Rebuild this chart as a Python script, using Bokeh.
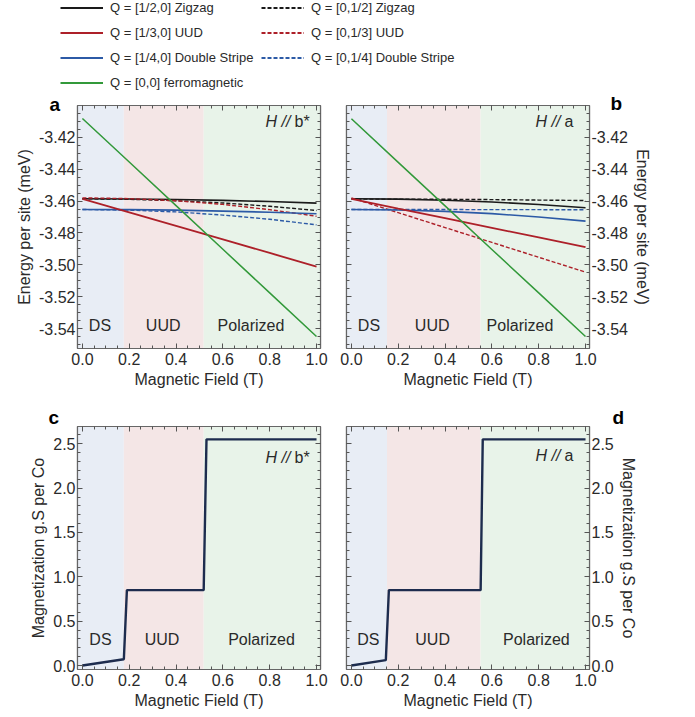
from bokeh.plotting import figure
from bokeh.layouts import column, row
from bokeh.models import (Legend, LegendItem, Label, LinearAxis, SingleIntervalTicker,
                          NumeralTickFormatter, Range1d, BoxAnnotation)
from bokeh.embed import file_html
from bokeh.resources import INLINE

# ---------------- data ----------------
field = [0.0, 0.2, 0.4, 0.6, 0.8, 1.0]

# panel a : H // b*
ferro_b = [-3.4083, -3.4356, -3.4629, -3.4902, -3.5175, -3.5448]
zig_h_b = [-3.4586, -3.4587, -3.4590, -3.4596, -3.4603, -3.4613]
zig_k_b = [-3.4586, -3.4589, -3.4598, -3.4612, -3.4633, -3.4659]
uud_h_b = [-3.4586, -3.4671, -3.4756, -3.4840, -3.4925, -3.5010]
uud_k_b = [-3.4580, -3.4585, -3.4598, -3.4621, -3.4654, -3.4695]
ds_h_b = [-3.4653, -3.4654, -3.4657, -3.4663, -3.4670, -3.4680]
ds_k_b = [-3.4653, -3.4657, -3.4668, -3.4688, -3.4714, -3.4749]

# panel b : H // a
ferro_a = [-3.4085, -3.4358, -3.4630, -3.4903, -3.5175, -3.5448]
zig_h_a = [-3.4586, -3.4588, -3.4595, -3.4606, -3.4622, -3.4642]
zig_k_a = [-3.4588, -3.4588, -3.4589, -3.4591, -3.4594, -3.4597]
uud_h_a = [-3.4586, -3.4647, -3.4707, -3.4768, -3.4828, -3.4889]
uud_k_a = [-3.4580, -3.4673, -3.4766, -3.4859, -3.4952, -3.5045]
ds_h_a = [-3.4653, -3.4656, -3.4665, -3.4679, -3.4700, -3.4726]
ds_k_a = [-3.4653, -3.4653, -3.4653, -3.4654, -3.4654, -3.4655]

# magnetization
mag_field_b = [0.0, 0.177, 0.19, 0.518, 0.53, 1.0]
mag_b = [0.0, 0.07, 0.85, 0.85, 2.55, 2.55]
mag_field_a = [0.0, 0.147, 0.16, 0.552, 0.561, 1.0]
mag_a = [0.0, 0.06, 0.85, 0.85, 2.55, 2.55]

# phase boundaries
bounds_b = [0.177, 0.518]
bounds_a = [0.152, 0.552]
phase_names = ["DS", "UUD", "Polarized"]

legend_labels = ["Q = [1/2,0] Zigzag", "Q = [1/3,0] UUD", "Q = [1/4,0] Double Stripe",
                 "Q = [0,0] ferromagnetic", "Q = [0,1/2] Zigzag", "Q = [0,1/3] UUD",
                 "Q = [0,1/4] Double Stripe"]

# ---------------- style ----------------
C_BLACK = "#1a1a1a"
C_RED = "#ad2029"
C_BLUE = "#2c5aa6"
C_GREEN = "#32993a"
C_MAG = "#1d2c4e"
BG = ["#e8edf5", "#f4e6e6", "#e8f3e9"]
FONT = "Liberation Sans"
TXT = "#2a2a2a"
DASH = "4 2"
XR = (-0.021, 1.017)
YR_E = (-3.5523, -3.4002)
YR_M = (-0.045, 2.695)


def style_axis(ax, show_labels=True):
    ax.major_tick_in = 5
    ax.major_tick_out = 0
    ax.minor_tick_in = 3
    ax.minor_tick_out = 0
    ax.major_tick_line_color = "#555555"
    ax.minor_tick_line_color = "#555555"
    ax.axis_line_color = "#666666"
    ax.axis_line_width = 1.2
    ax.major_label_text_font = FONT
    ax.major_label_text_font_size = "16px"
    ax.major_label_text_color = TXT if show_labels else None
    ax.axis_label_text_font = FONT
    ax.axis_label_text_font_size = "16px"
    ax.axis_label_text_font_style = "normal"
    ax.axis_label_text_color = TXT


def make_panel(side, yr, yint, yminor, yfmt, ylabel, top, bottom, bounds,
               letter, letter_offset, letter_standoff):
    if side == "left":
        bl, br = 77, 13
    else:
        bl, br = 13, 107
    p = figure(frame_width=243, frame_height=243, min_border_left=bl, min_border_right=br,
               min_border_top=top, min_border_bottom=bottom,
               x_range=Range1d(*XR), y_range=Range1d(*yr),
               y_axis_location=side, toolbar_location=None, output_backend="svg")
    p.grid.visible = False
    p.outline_line_color = "#666666"
    p.outline_line_width = 1.2
    p.background_fill_color = "white"
    p.border_fill_color = "white"

    # panel letter as title
    p.title.text = letter
    p.title.align = "left"
    p.title.offset = letter_offset
    p.title.standoff = letter_standoff
    p.title.text_font = FONT
    p.title.text_font_size = "19px"
    p.title.text_font_style = "bold"
    p.title.text_color = "black"

    xt = SingleIntervalTicker(interval=0.2, num_minor_ticks=4)
    yt = SingleIntervalTicker(interval=yint, num_minor_ticks=yminor)
    p.xaxis.ticker = xt
    p.xaxis.formatter = NumeralTickFormatter(format="0.0")
    p.xaxis.axis_label = "Magnetic Field (T)"
    p.yaxis.ticker = yt
    p.yaxis.formatter = NumeralTickFormatter(format=yfmt)
    p.yaxis.axis_label = ylabel
    for ax in p.xaxis:
        style_axis(ax)
        ax.major_label_standoff = 4
        ax.axis_label_standoff = 3
    for ax in p.yaxis:
        style_axis(ax)
        ax.major_label_standoff = 2
        ax.axis_label_standoff = 3

    # mirrored frame ticks
    top_ax = LinearAxis(ticker=SingleIntervalTicker(interval=0.2, num_minor_ticks=4))
    style_axis(top_ax, show_labels=False)
    top_ax.major_label_standoff = 0
    p.add_layout(top_ax, "above")
    other = "right" if side == "left" else "left"
    y_ax = LinearAxis(ticker=SingleIntervalTicker(interval=yint, num_minor_ticks=yminor))
    style_axis(y_ax, show_labels=False)
    y_ax.major_label_standoff = 0
    p.add_layout(y_ax, other)

    # phase regions
    edges = [XR[0]] + list(bounds) + [XR[1]]
    for i in range(3):
        p.add_layout(BoxAnnotation(left=edges[i], right=edges[i + 1], bottom=yr[0], top=yr[1],
                                   fill_color=BG[i], fill_alpha=1.0, line_color=None,
                                   level="underlay"))
    return p


def add_texts(p, hdir, hx, hy, px, py):
    p.add_layout(Label(x=hx, y=hy, x_units="screen", y_units="screen", text="H //",
                       text_align="right", text_font=FONT, text_font_size="16px",
                       text_font_style="italic", text_color=TXT))
    p.add_layout(Label(x=hx + 4, y=hy, x_units="screen", y_units="screen", text=hdir,
                       text_align="left", text_font=FONT, text_font_size="16px",
                       text_color=TXT))
    for name, x in zip(phase_names, px):
        p.add_layout(Label(x=x, y=py, x_units="data", y_units="screen", text=name,
                           text_align="center", text_baseline="middle", text_font=FONT,
                           text_font_size="16px", text_color=TXT))


def energy_lines(p, zh, zk, uh, uk, dh, dk, fe):
    p.line(field, zh, line_color=C_BLACK, line_width=1.6)
    p.line(field, zk, line_color=C_BLACK, line_width=1.4, line_dash=DASH)
    p.line(field, uk, line_color=C_RED, line_width=1.4, line_dash=DASH)
    p.line(field, dk, line_color=C_BLUE, line_width=1.4, line_dash=DASH)
    p.line(field, dh, line_color=C_BLUE, line_width=1.6)
    p.line(field, uh, line_color=C_RED, line_width=1.8)
    p.line(field, fe, line_color=C_GREEN, line_width=1.5)


# ---------------- panels ----------------
pa = make_panel("left", YR_E, 0.02, 4, "0.00", "Energy per site (meV)", 15, 52, bounds_b,
                "a", -28, -18)
energy_lines(pa, zig_h_b, zig_k_b, uud_h_b, uud_k_b, ds_h_b, ds_k_b, ferro_b)
add_texts(pa, "b*", 213, 219, [0.075, 0.345, 0.72], 23)

pb = make_panel("right", YR_E, 0.02, 4, "0.00", "Energy per site (meV)", 15, 52, bounds_a,
                "b", 264, -17)
energy_lines(pb, zig_h_a, zig_k_a, uud_h_a, uud_k_a, ds_h_a, ds_k_a, ferro_a)
add_texts(pb, "a", 214, 219, [0.075, 0.345, 0.72], 23)

pc = make_panel("left", YR_M, 0.5, 5, "0.0", "Magnetization g.S per Co", 26, 48, bounds_b,
                "c", -29, -3)
pc.line(mag_field_b, mag_b, line_color=C_MAG, line_width=2.4)
add_texts(pc, "b*", 213, 204, [0.077, 0.34, 0.765], 30)

pd = make_panel("right", YR_M, 0.5, 5, "0.0", "Magnetization g.S per Co", 26, 48, bounds_a,
                "d", 266, -3)
pd.line(mag_field_a, mag_a, line_color=C_MAG, line_width=2.4)
add_texts(pd, "a", 214, 206, [0.072, 0.347, 0.79], 30)

# ---------------- legend strip ----------------
# the legend strip re-plots the series off-range so each legend entry has a real renderer
pl = figure(width=695, height=90, min_border=0, x_range=(0, 1), y_range=(0, 1),
            x_axis_location=None, y_axis_location=None, toolbar_location=None,
            output_backend="svg")
pl.grid.visible = False
pl.outline_line_color = None
series = [zig_h_b, uud_h_b, ds_h_b, ferro_b, zig_k_b, uud_k_b, ds_k_b]
styles = [(C_BLACK, "solid"), (C_RED, "solid"), (C_BLUE, "solid"), (C_GREEN, "solid"),
          (C_BLACK, DASH), (C_RED, DASH), (C_BLUE, DASH)]
rends = [pl.line(field, s, line_color=c, line_width=2.0, line_dash=d)
         for s, (c, d) in zip(series, styles)]
items = [LegendItem(label=legend_labels[i], renderers=[rends[i]]) for i in range(7)]


def make_legend(its, x, y):
    return Legend(items=its, location=(x, y), orientation="vertical", glyph_width=43,
                  glyph_height=25, label_height=25, spacing=0, padding=0, margin=0,
                  label_standoff=7, border_line_color=None, background_fill_alpha=0,
                  label_text_font=FONT, label_text_font_size="13px",
                  label_text_color=TXT)


pl.add_layout(make_legend(items[:4], 60, -5))
pl.add_layout(make_legend(items[4:], 261, 20))

layout = column(pl, row(pa, pb), row(pc, pd))
open("out.html", "w").write(file_html(layout, INLINE))
